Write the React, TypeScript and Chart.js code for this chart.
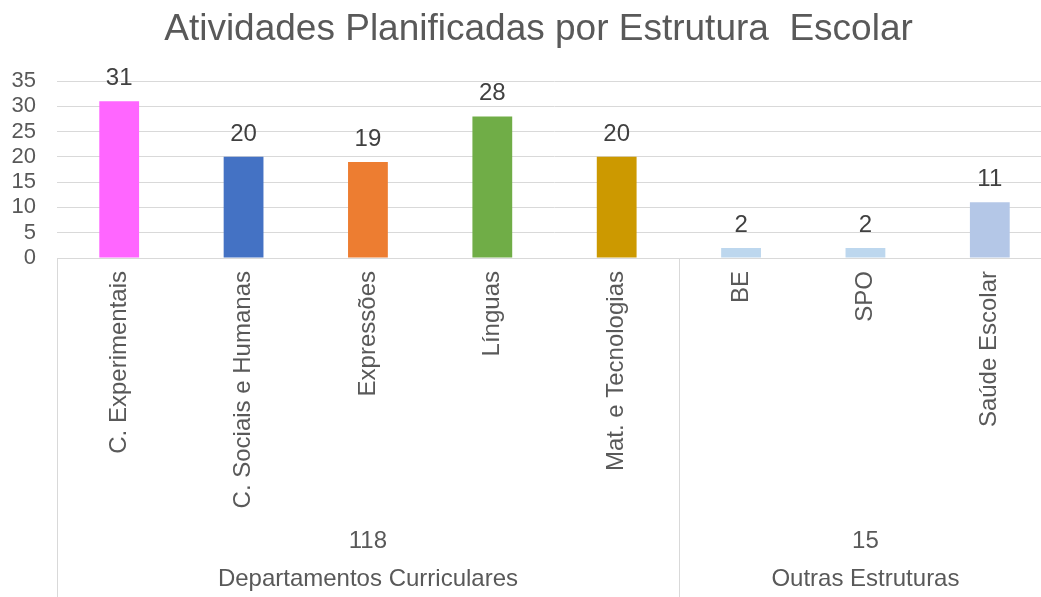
import React, { useEffect, useRef } from "react";
import { Chart, registerables } from "chart.js";

Chart.register(...registerables);

const titleText = "Atividades Planificadas por Estrutura  Escolar";
const categories = [
  "C. Experimentais",
  "C. Sociais e Humanas",
  "Expressões",
  "Línguas",
  "Mat. e Tecnologias",
  "BE",
  "SPO",
  "Saúde Escolar",
];
const values = [31, 20, 19, 28, 20, 2, 2, 11];
const barColors = ["#FF66FF", "#4472C4", "#ED7D31", "#70AD47", "#CC9900", "#BDD7EE", "#BDD7EE", "#B4C7E7"];
const groupNames = ["Departamentos Curriculares", "Outras Estruturas"];
const groupSizes = [5, 3];
const groupTotals = [118, 15];
const yTicks = [0, 5, 10, 15, 20, 25, 30, 35];

const FONT = "'Liberation Sans', Arial, sans-serif";
const GRID = "#d9d9d9";
const TEXT = "#595959";

const titlePlugin = {
  id: "centeredTitle",
  afterDraw(chart: any) {
    const { ctx } = chart;
    ctx.save();
    ctx.font = `37px ${FONT}`;
    ctx.fillStyle = TEXT;
    ctx.textAlign = "center";
    ctx.textBaseline = "alphabetic";
    ctx.fillText(titleText, chart.width / 2, 40);
    ctx.restore();
  },
};

const dataLabelPlugin = {
  id: "dataLabels",
  afterDatasetsDraw(chart: any) {
    const { ctx } = chart;
    const meta = chart.getDatasetMeta(0);
    ctx.save();
    ctx.font = `24px ${FONT}`;
    ctx.fillStyle = "#404040";
    ctx.textAlign = "center";
    ctx.textBaseline = "alphabetic";
    meta.data.forEach((bar: any, i: number) => {
      ctx.fillText(String(values[i]), bar.x, bar.y - 16);
    });
    ctx.restore();
  },
};

const groupPlugin = {
  id: "groupAxis",
  afterDraw(chart: any) {
    const { ctx, chartArea } = chart;
    const x = chart.scales.x;
    const n = categories.length;
    const cw = (x.right - x.left) / n;
    const top = chartArea.bottom;
    const bottom = chart.height;
    ctx.save();
    ctx.strokeStyle = GRID;
    ctx.lineWidth = 1;
    let start = 0;
    const bounds: number[] = [];
    groupSizes.forEach((size) => {
      bounds.push(x.getPixelForValue(start) - cw / 2);
      start += size;
    });
    bounds.push(x.getPixelForValue(start - 1) + cw / 2);
    bounds.forEach((b) => {
      const px = Math.round(b) + 0.5;
      ctx.beginPath();
      ctx.moveTo(px, top);
      ctx.lineTo(px, bottom);
      ctx.stroke();
    });
    ctx.font = `24px ${FONT}`;
    ctx.fillStyle = TEXT;
    ctx.textAlign = "center";
    ctx.textBaseline = "alphabetic";
    groupNames.forEach((name, g) => {
      const cx = (bounds[g] + bounds[g + 1]) / 2;
      ctx.fillText(String(groupTotals[g]), cx, top + 290);
      ctx.fillText(name, cx, top + 328);
    });
    ctx.restore();
  },
};

export default function App() {
  const ref = useRef<HTMLCanvasElement | null>(null);
  useEffect(() => {
    if (!ref.current) return;
    const chart = new Chart(ref.current, {
      type: "bar",
      data: {
        labels: categories,
        datasets: [
          {
            data: values,
            backgroundColor: barColors,
            borderWidth: 0,
            categoryPercentage: 1,
            barPercentage: 0.32,
          },
        ],
      },
      options: {
        responsive: false,
        animation: false,
        devicePixelRatio: 1,
        layout: { padding: { left: 0, right: 25, top: 81, bottom: 0 } },
        plugins: {
          legend: { display: false },
          tooltip: { enabled: false },
          title: { display: false },
        },
        scales: {
          x: {
            grid: { display: false, drawTicks: false },
            border: { display: true, color: GRID, width: 1 },
            ticks: {
              autoSkip: false,
              maxRotation: 90,
              minRotation: 90,
              padding: 13,
              color: TEXT,
              font: { family: FONT, size: 24 },
            },
            afterFit: (s: any) => {
              s.height = 339;
            },
          },
          y: {
            min: yTicks[0],
            max: yTicks[yTicks.length - 1],
            grid: { color: GRID, lineWidth: 1, drawTicks: false },
            border: { display: false },
            ticks: {
              autoSkip: false,
              stepSize: yTicks[1] - yTicks[0],
              padding: 21,
              color: TEXT,
              font: { family: FONT, size: 22, lineHeight: 1 },
            },
            afterFit: (s: any) => {
              s.width = 57;
            },
          },
        },
      },
      plugins: [titlePlugin, dataLabelPlugin, groupPlugin],
    });
    return () => chart.destroy();
  }, []);
  return (
    <div
      style={{
        position: "fixed",
        left: 0,
        top: 0,
        width: 1041,
        height: 597,
        overflow: "hidden",
        background: "#ffffff",
      }}
    >
      <canvas ref={ref} width={1077} height={597} style={{ display: "block" }} />
    </div>
  );
}
